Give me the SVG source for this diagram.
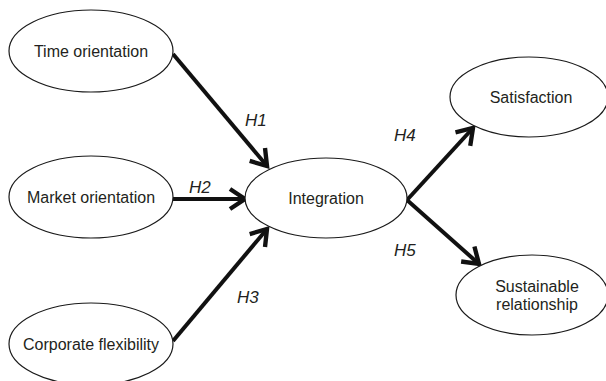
<svg xmlns="http://www.w3.org/2000/svg" width="606" height="381" viewBox="0 0 606 381">
  <style>
    .node ellipse { fill: #fff; stroke: #1a1a1a; stroke-width: 1.2; }
    .node text { font-family: "Liberation Sans", Arial, sans-serif; font-size: 16px; fill: #231f20; text-anchor: middle; }
    .edge { stroke: #111; stroke-width: 4; fill: none; }
    .lbl { font-family: "Liberation Sans", Arial, sans-serif; font-size: 17px; font-style: italic; fill: #231f20; }
  </style>
  <defs>
    <marker id="chev" markerUnits="userSpaceOnUse" markerWidth="30" markerHeight="30" refX="0" refY="0" viewBox="-16 -12 20 24" orient="auto">
      <path d="M-12,-8 L0,0 L-12,8" fill="none" stroke="#111" stroke-width="3.5" stroke-linejoin="miter"/>
    </marker>
  </defs>
  <rect width="606" height="381" fill="#fff"/>

  <g id="connectors">
    <line class="edge" x1="173" y1="54" x2="267" y2="166" marker-end="url(#chev)"/>
    <line class="edge" x1="173" y1="199" x2="245" y2="199" marker-end="url(#chev)"/>
    <line class="edge" x1="173" y1="341" x2="267" y2="229" marker-end="url(#chev)"/>
    <line class="edge" x1="407" y1="200" x2="473" y2="128" marker-end="url(#chev)"/>
    <line class="edge" x1="407" y1="200" x2="479" y2="264" marker-end="url(#chev)"/>
    <text class="lbl" x="245" y="126">H1</text>
    <text class="lbl" x="189" y="193">H2</text>
    <text class="lbl" x="237" y="303">H3</text>
    <text class="lbl" x="394" y="141">H4</text>
    <text class="lbl" x="394" y="256">H5</text>
  </g>

  <g id="time-orientation" class="node">
    <ellipse cx="91" cy="51" rx="82" ry="41"/>
    <text x="91" y="57">Time orientation</text>
  </g>
  <g id="market-orientation" class="node">
    <ellipse cx="91" cy="197" rx="82" ry="41"/>
    <text x="91" y="203">Market orientation</text>
  </g>
  <g id="corporate-flexibility" class="node">
    <ellipse cx="91" cy="344" rx="82" ry="41"/>
    <text x="91" y="350">Corporate flexibility</text>
  </g>
  <g id="integration" class="node">
    <ellipse cx="326" cy="198" rx="81" ry="40"/>
    <text x="326" y="204">Integration</text>
  </g>
  <g id="satisfaction" class="node">
    <ellipse cx="529" cy="97" rx="79" ry="40"/>
    <text x="531" y="103">Satisfaction</text>
  </g>
  <g id="sustainable-relationship" class="node">
    <ellipse cx="532" cy="295" rx="76" ry="40"/>
    <text x="537" y="292">Sustainable</text>
    <text x="537" y="310">relationship</text>
  </g>
</svg>
